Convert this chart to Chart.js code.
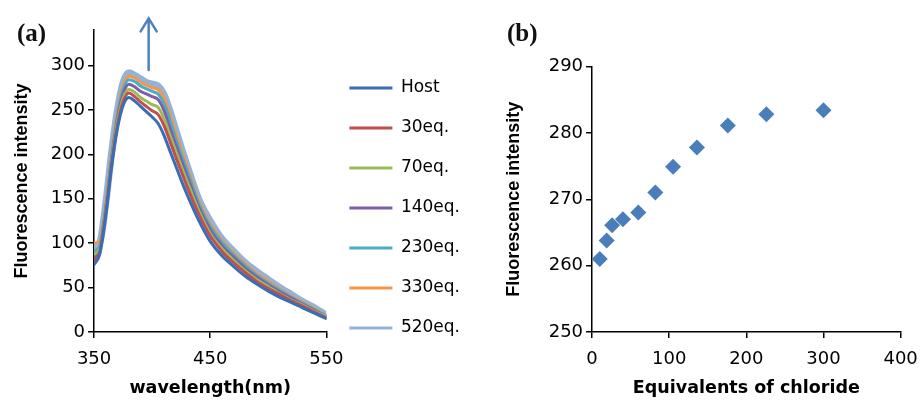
<!DOCTYPE html>
<html>
<head>
<meta charset="utf-8">
<script src="https://cdn.jsdelivr.net/npm/chart.js@4.4.1/dist/chart.umd.min.js"></script>
<style>
  html, body { margin: 0; padding: 0; background: #fff; }
  body { width: 920px; height: 400px; position: relative; overflow: hidden; }
  canvas { position: absolute; top: 0; }
  #chartA { left: 0; }
  #chartB { left: 470px; }
  .panel { position: absolute; font-family: "Liberation Serif", serif; font-weight: bold;
           font-size: 25px; line-height: 24px; color: #111; }
</style>
</head>
<body>
<canvas id="chartA" width="470" height="400"></canvas>
<canvas id="chartB" width="458" height="400"></canvas>
<div class="panel" style="left:17px; top:21px;">(a)</div>
<div class="panel" style="left:507px; top:21px;">(b)</div>
<script>
// (a) emission spectra
const wavelengths = [350, 355, 360, 365, 370, 375, 380, 385, 390, 395, 400, 405, 410, 415, 420, 425, 430, 440, 450, 460, 470, 480, 490, 500, 510, 520, 530, 540, 550];
const host  = [76,  88, 130, 185, 228, 255, 264, 260, 254, 248, 242, 235, 222, 205, 188, 171, 155, 126, 102,  86,  74,  63,  54,  46,  39,  33,  27,  21,  15];
const eq30  = [80,  91, 133, 188, 232, 259, 269, 265, 259, 254, 249, 245, 233, 216, 198, 181, 164, 133, 108,  91,  78,  67,  57,  49,  42,  35,  29,  22,  16];
const eq70  = [88,  94, 136, 191, 236, 263, 273, 270, 264, 260, 256, 253, 241, 223, 205, 187, 170, 137, 111,  94,  81,  69,  59,  51,  43,  36,  30,  23,  17];
const eq140 = [83,  93, 137, 193, 239, 268, 279, 276, 271, 268, 265, 262, 250, 231, 212, 194, 176, 141, 115,  97,  84,  72,  62,  53,  45,  38,  31,  24,  17];
const eq230 = [91,  97, 140, 196, 243, 273, 284, 282, 277, 274, 271, 268, 258, 240, 219, 200, 182, 145, 119, 101,  87,  75,  64,  55,  47,  39,  32,  25,  18];
const eq330 = [100, 102, 143, 199, 246, 277, 288, 286, 281, 278, 275, 273, 264, 246, 225, 205, 186, 148, 122, 103,  89,  77,  66,  57,  48,  40,  33,  26,  18];
const eq520 = [96, 101, 144, 201, 249, 281, 292, 289, 285, 281, 279, 277, 268, 250, 229, 208, 188, 150, 125, 105,  91,  78,  68,  59,  50,  42,  34,  27,  19];
const seriesLabels = ['Host', '30eq.', '70eq.', '140eq.', '230eq.', '330eq.', '520eq.'];
const spectra = [host, eq30, eq70, eq140, eq230, eq330, eq520];
const xTicksA = [350, 450, 550];
const yTicksA = [0, 50, 100, 150, 200, 250, 300];

// (b) titration
const chlorideEq = [10, 19, 26, 40, 60, 82, 105, 136, 176, 226, 300];
const intensityB = [261, 263.8, 266.1, 267, 268, 271, 274.9, 277.8, 281.1, 282.8, 283.4];
const xTicksB = [0, 100, 200, 300, 400];
const yTicksB = [250, 260, 270, 280, 290];

const seriesColors = ['#3A6DB5', '#C0504D', '#9BBB59', '#7F5FA8', '#4BACC6', '#F79646', '#95B3D7'];
const seriesWidths = [3, 3, 3, 3, 3, 3, 7];
const arrowAt = { x: 397, from: 295, to: 353 };

const tickFont = { family: 'DejaVu Sans', size: 18 };
const xTitleFont = { family: 'DejaVu Sans', weight: 'bold', size: 17.5 };
const yTitleFont = { family: 'Liberation Sans', weight: 'bold', size: 18 };

function axis(min, max, ticks, title, isY, titlePad) {
  return {
    type: 'linear', min: min, max: max,
    afterBuildTicks: a => { a.ticks = ticks.map(v => ({ value: v })); },
    border: { display: true, color: '#000', width: 1.5 },
    grid: { drawOnChartArea: false, drawTicks: true, tickLength: 6, color: '#000', lineWidth: 1.5 },
    ticks: { color: '#000', font: tickFont, padding: isY ? 3 : 10.2, maxRotation: 0, autoSkip: false },
    title: { display: true, text: title, color: '#000', font: isY ? yTitleFont : xTitleFont, padding: titlePad }
  };
}

const arrowPlugin = {
  id: 'arrow',
  afterDraw(chart) {
    const { ctx, scales: { x, y } } = chart;
    const px = x.getPixelForValue(arrowAt.x);
    const y0 = y.getPixelForValue(arrowAt.from);
    const y1 = y.getPixelForValue(arrowAt.to);
    ctx.save();
    ctx.strokeStyle = '#4F81BD';
    ctx.lineWidth = 2.5;
    ctx.lineCap = 'round';
    ctx.beginPath();
    ctx.moveTo(px, y0);
    ctx.lineTo(px, y1);
    ctx.moveTo(px - 8, y1 + 13);
    ctx.lineTo(px, y1);
    ctx.lineTo(px + 8, y1 + 13);
    ctx.stroke();
    ctx.restore();
  }
};

new Chart(document.getElementById('chartA'), {
  type: 'line',
  data: {
    datasets: spectra.map((s, i) => ({
      label: seriesLabels[i],
      data: wavelengths.map((w, j) => ({ x: w, y: s[j] })),
      borderColor: seriesColors[i],
      backgroundColor: seriesColors[i],
      borderWidth: seriesWidths[i],
      borderCapStyle: 'round',
      borderJoinStyle: 'round',
      pointRadius: 0,
      cubicInterpolationMode: 'monotone',
      fill: false
    }))
  },
  options: {
    responsive: false,
    animation: false,
    layout: { padding: { left: 11.2, top: 16, right: 0, bottom: 0 } },
    plugins: {
      title: { display: true, text: '', font: { size: 10, lineHeight: 1.4 }, padding: 0 },
      tooltip: { enabled: false },
      legend: {
        position: 'right',
        align: 'center',
        maxWidth: 200,
        labels: {
          boxWidth: 43, boxHeight: 3, padding: 23, color: '#000',
          font: { family: 'DejaVu Sans', size: 17 },
          generateLabels(chart) {
            return Chart.defaults.plugins.legend.labels.generateLabels(chart)
              .map(l => Object.assign(l, { lineWidth: 0 }));
          }
        }
      }
    },
    scales: {
      x: axis(350, 550, xTicksA, 'wavelength(nm)', false, { top: -2.5, bottom: 1.5 }),
      y: axis(0, 340, yTicksA, 'Fluorescence intensity', true, { top: 0, bottom: 14.9 })
    }
  },
  plugins: [arrowPlugin]
});

new Chart(document.getElementById('chartB'), {
  type: 'scatter',
  data: {
    datasets: [{
      label: 'Fluorescence intensity',
      data: chlorideEq.map((c, i) => ({ x: c, y: intensityB[i] })),
      pointStyle: 'rectRot',
      pointRadius: 8,
      backgroundColor: '#4A7EBB',
      borderColor: '#4A7EBB',
      borderWidth: 0
    }]
  },
  options: {
    responsive: false,
    animation: false,
    layout: { padding: { left: 33.2, top: 66.5, right: 0, bottom: 0 } },
    plugins: { legend: { display: false }, tooltip: { enabled: false } },
    scales: {
      x: axis(0, 400, xTicksB, 'Equivalents of chloride', false, { top: -2.5, bottom: 1.5 }),
      y: axis(250, 290, yTicksB, 'Fluorescence intensity', true, { top: 0, bottom: 20.9 })
    }
  }
});
</script>
</body>
</html>
